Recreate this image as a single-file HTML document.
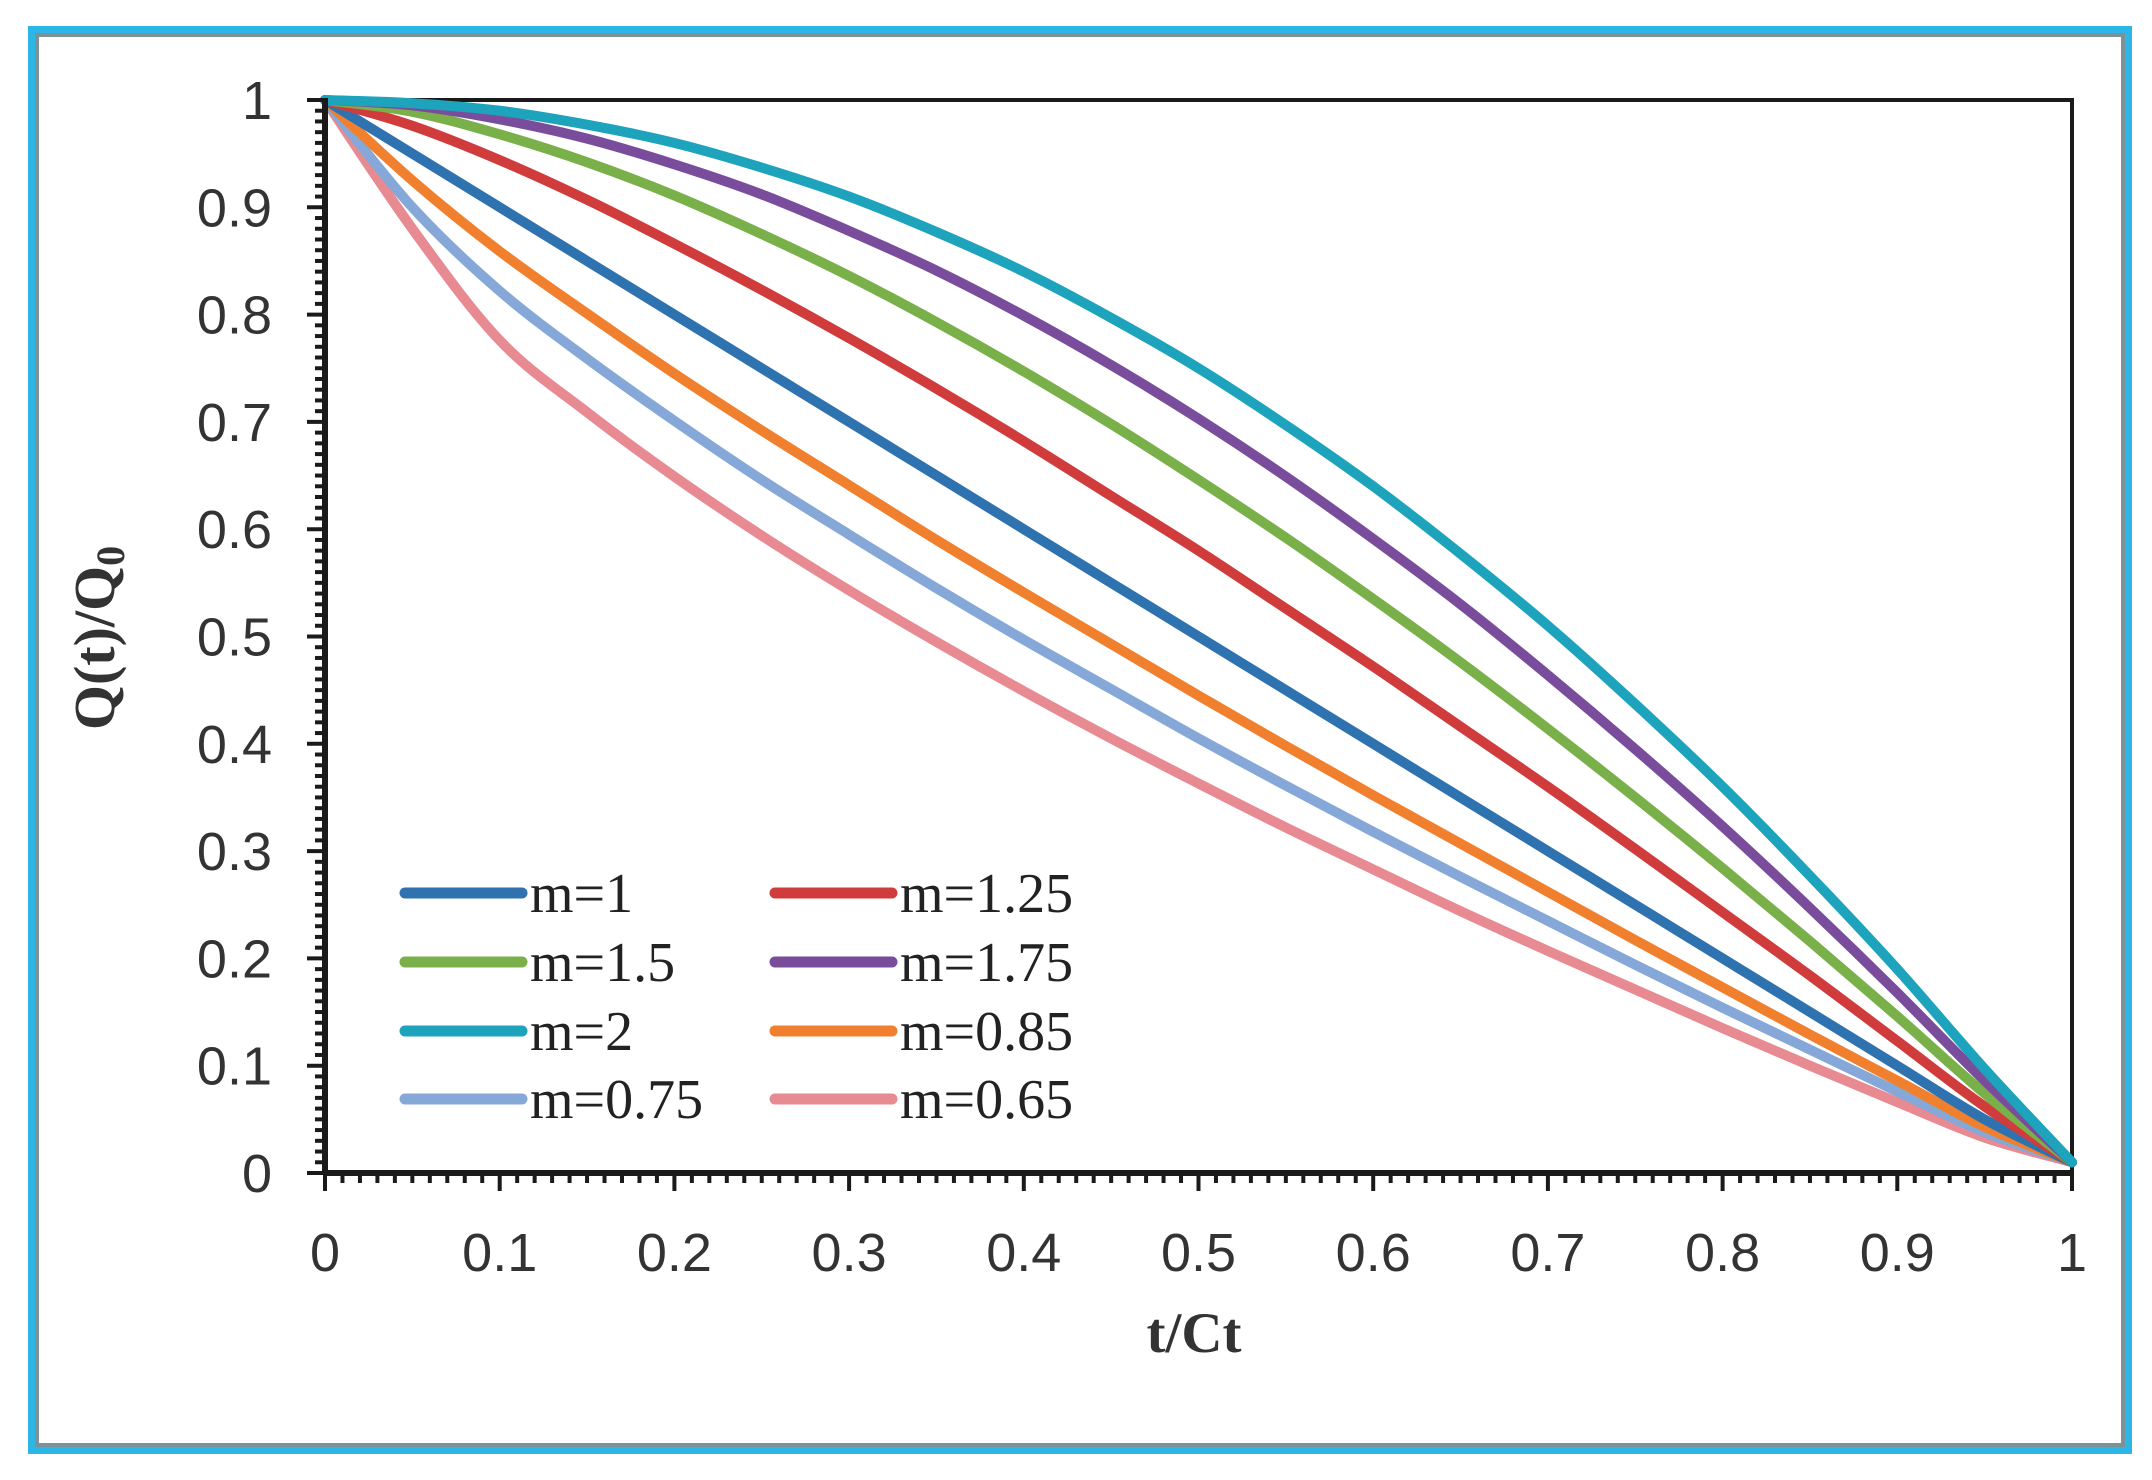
<!DOCTYPE html>
<html><head><meta charset="utf-8">
<style>
html,body{margin:0;padding:0;background:#fff;}
svg{display:block;}
</style></head>
<body>
<svg id="chart" width="2152" height="1480" viewBox="0 0 2152 1480" xmlns="http://www.w3.org/2000/svg">
  <rect x="32" y="30" width="2096" height="1420" fill="#fff" stroke="#2bb6e6" stroke-width="8"/>
  <rect x="37" y="35" width="2086" height="1410" fill="none" stroke="#7d9298" stroke-width="4"/>
  <g id="plot"></g>
</svg>
<script>
const xs = [0,0.05,0.1,0.15,0.2,0.25,0.3,0.35,0.4,0.45,0.5,0.55,0.6,0.65,0.7,0.75,0.8,0.85,0.9,0.95,1];
const seriesNames = ["m=1","m=1.25","m=1.5","m=1.75","m=2","m=0.85","m=0.75","m=0.65"];
const sM1   = [1,0.95,0.9,0.85,0.8,0.75,0.7,0.65,0.6,0.55,0.5,0.45,0.4,0.35,0.3,0.25,0.2,0.15,0.1,0.05,0.01];
const sM125 = [1,0.976,0.944,0.907,0.866,0.823,0.778,0.731,0.682,0.631,0.58,0.526,0.472,0.416,0.36,0.302,0.243,0.184,0.123,0.062,0.01];
const sM15  = [1,0.989,0.968,0.942,0.911,0.875,0.836,0.793,0.747,0.698,0.646,0.592,0.535,0.476,0.414,0.35,0.284,0.216,0.146,0.074,0.01];
const sM175 = [1,0.995,0.982,0.964,0.94,0.912,0.878,0.841,0.799,0.753,0.703,0.649,0.591,0.53,0.464,0.395,0.323,0.247,0.168,0.086,0.01];
const sM2   = [1,0.997,0.99,0.977,0.96,0.937,0.91,0.877,0.84,0.797,0.75,0.697,0.64,0.577,0.51,0.437,0.36,0.277,0.19,0.097,0.01];
const sM085 = [1,0.925,0.859,0.801,0.745,0.692,0.641,0.59,0.541,0.493,0.445,0.398,0.352,0.307,0.262,0.217,0.173,0.129,0.086,0.043,0.01];
const sM075 = [1,0.9,0.822,0.759,0.701,0.646,0.595,0.545,0.497,0.451,0.405,0.361,0.318,0.276,0.235,0.194,0.154,0.115,0.076,0.038,0.01];
const sM065 = [1,0.88,0.776,0.709,0.649,0.594,0.543,0.495,0.449,0.405,0.363,0.322,0.283,0.244,0.207,0.171,0.135,0.1,0.066,0.033,0.01];
const seriesValues = [sM1,sM125,sM15,sM175,sM2,sM085,sM075,sM065];
const seriesColors = ["#2e72b0","#d03c3c","#79b04a","#7a4d9c","#1ea3bd","#f0802e","#86a8d8","#e88a92"];
const xTickLabels = ["0","0.1","0.2","0.3","0.4","0.5","0.6","0.7","0.8","0.9","1"];
const yTickLabels = ["0","0.1","0.2","0.3","0.4","0.5","0.6","0.7","0.8","0.9","1"];

const NS = "http://www.w3.org/2000/svg";
const L = 325, R = 2072, T = 100, B = 1173;
const xScale = v => L + v * (R - L);
const yScale = v => B - v * (B - T);
const g = document.getElementById('plot');
function mk(tag, attrs, parent) {
  const e = document.createElementNS(NS, tag);
  for (const k in attrs) e.setAttribute(k, attrs[k]);
  (parent || g).appendChild(e);
  return e;
}
let box = mk('path', {d:`M${L},${T} H${R} V${B}`, fill:'none', stroke:'#1a1a1a', 'stroke-width':4});



function pathFor(vals) {
  const pts = xs.map((x,i)=>[xScale(x), yScale(vals[i])]);
  let d = `M${pts[0][0]},${pts[0][1]}`;
  for (let i=0;i<pts.length-1;i++){
    const p0 = pts[Math.max(0,i-1)], p1=pts[i], p2=pts[i+1], p3=pts[Math.min(pts.length-1,i+2)];
    const c1x = p1[0]+(p2[0]-p0[0])/6, c1y = p1[1]+(p2[1]-p0[1])/6;
    const c2x = p2[0]-(p3[0]-p1[0])/6, c2y = p2[1]-(p3[1]-p1[1])/6;
    d += ` C${c1x},${c1y} ${c2x},${c2y} ${p2[0]},${p2[1]}`;
  }
  return d;
}
const drawOrder = [7,6,5,0,1,2,3,4];
drawOrder.forEach(i => {
  const p = mk('path', {d:pathFor(seriesValues[i]), fill:'none', stroke:seriesColors[i], 'stroke-width':10, 'stroke-linejoin':'round', 'stroke-linecap':'round'});
  
  
});

let ax = mk('line', {x1:L, y1:T-2, x2:L, y2:B+2, stroke:'#1a1a1a', 'stroke-width':6});


let axx = mk('line', {x1:L-2, y1:B, x2:R+2, y2:B, stroke:'#1a1a1a', 'stroke-width':6});



for (let k=0;k<=100;k++){
  const major = k%10===0;
  const len = major ? 18 : 10;
  const y = yScale(k/100);
  let t = mk('line', {x1:L-len, y1:y, x2:L, y2:y, stroke:'#1a1a1a', 'stroke-width':4});
  
  
  const x = xScale(k/100);
  let t2 = mk('line', {x1:x, y1:B, x2:x, y2:B+len, stroke:'#1a1a1a', 'stroke-width':4});
  
  
}
yTickLabels.forEach((lab,i)=>{
  const t = mk('text', {x:272, y:yScale(i/10)+19, 'text-anchor':'end', 'font-family':'"Liberation Sans", sans-serif', 'font-size':54, fill:'#333'});
  t.textContent = lab;
  
  
});
xTickLabels.forEach((lab,i)=>{
  const t = mk('text', {x:xScale(i/10), y:1271, 'text-anchor':'middle', 'font-family':'"Liberation Sans", sans-serif', 'font-size':54, fill:'#333'});
  t.textContent = lab;
  
  
});
let xt = mk('text', {x:1194, y:1352, 'text-anchor':'middle', 'font-family':'"Liberation Serif", serif', 'font-weight':'bold', 'font-size':57, fill:'#333'});
xt.textContent = 't/Ct';


let yt = mk('text', {x:0, y:0, transform:'translate(114,638) rotate(-90)', 'text-anchor':'middle', 'font-family':'"Liberation Serif", serif', 'font-weight':'bold', 'font-size':58, fill:'#333'});
yt.innerHTML = 'Q(t)/Q<tspan font-size="40" dy="10">0</tspan>';



const legendOrder = [0,1,2,3,4,5,6,7];
const rowsY = [893,962,1031,1099];
legendOrder.forEach((si,idx)=>{
  const col = idx%2, row = Math.floor(idx/2);
  const lx = col===0 ? 405 : 775;
  const y = rowsY[row];
  const grp = mk('g', {});
  
  
  mk('line', {x1:lx, y1:y, x2:lx+117, y2:y, stroke:seriesColors[si], 'stroke-width':11, 'stroke-linecap':'round'}, grp);
  const t = mk('text', {x:lx+125, y:y+19, 'font-family':'"Liberation Serif", serif', 'font-size':56, fill:'#222'}, grp);
  t.textContent = seriesNames[si];
});
</script>
</body></html>
